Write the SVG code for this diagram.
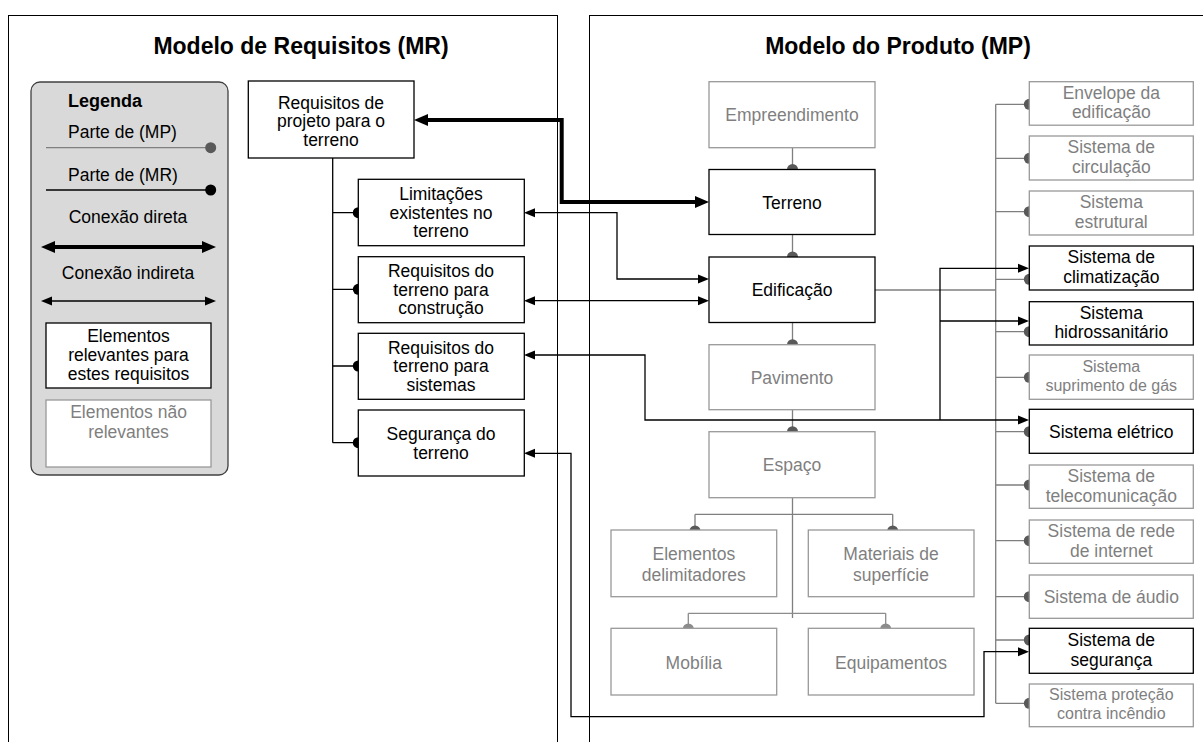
<svg xmlns="http://www.w3.org/2000/svg" width="1203" height="742" viewBox="0 0 1203 742">
  <style>
    text { font-family: "Liberation Sans", Arial, sans-serif; font-size: 17.5px; fill: #000; text-anchor: middle; }
    .title { font-size: 23px; font-weight: bold; }
    .leg { text-anchor: start; }
    .g { fill: #7f7f7f; }
    .sm { font-size: 16px; }
    .panel { fill: none; stroke: #000; stroke-width: 1; }
    .box { fill: #fff; stroke: #000; stroke-width: 1.3; }
    .gbox { fill: #fff; stroke: #999; stroke-width: 1.3; }
    .mr { fill: none; stroke: #000; stroke-width: 1.3; }
    .mp { fill: none; stroke: #7f7f7f; stroke-width: 1.3; }
    .mp2 { fill: none; stroke: #8c8c8c; stroke-width: 1.3; }
    .dk { fill: #000; }
    .dg { fill: #595959; }
    .lg { fill: #8c8c8c; }
    .thin { fill: none; stroke: #000; stroke-width: 1.3; }
    .thick { fill: none; stroke: #000; stroke-width: 4; }
  </style>
  <defs>
    <marker id="ah" markerUnits="userSpaceOnUse" markerWidth="11" markerHeight="10" viewBox="0 0 11 10" refX="8" refY="5" orient="auto-start-reverse">
      <path d="M0,0.5 L11,5 L0,9.5 z" fill="#000"/>
    </marker>
    <marker id="ahb" markerUnits="userSpaceOnUse" markerWidth="14" markerHeight="13" viewBox="0 0 14 13" refX="7" refY="6.5" orient="auto-start-reverse">
      <path d="M0,0.5 L14,6.5 L0,12.5 z" fill="#000"/>
    </marker>
  </defs>

  <rect width="1203" height="742" fill="#fff"/>

  <!-- panels -->
  <g id="panels">
    <rect class="panel" x="8.5" y="15.5" width="549" height="760"/>
    <rect class="panel" x="589.5" y="15.5" width="640" height="760"/>
    <text class="title" x="301" y="54">Modelo de Requisitos (MR)</text>
    <text class="title" x="898" y="54">Modelo do Produto (MP)</text>
  </g>

  <!-- legend -->
  <g id="legenda">
    <rect x="31" y="82" width="197" height="393" rx="9" fill="#d9d9d9" stroke="#404040" stroke-width="1.3"/>
    <text class="leg" x="68" y="107" style="font-weight:bold;font-size:18px">Legenda</text>
    <text class="leg" x="68" y="138">Parte de (MP)</text>
    <line class="mp" x1="46" y1="147.7" x2="210.7" y2="147.7"/>
    <circle class="dg" cx="210.7" cy="147.7" r="5.5"/>
    <text class="leg" x="68" y="181">Parte de (MR)</text>
    <line class="mr" x1="46" y1="190" x2="210.7" y2="190"/>
    <circle class="dk" cx="210.7" cy="190" r="5.5"/>
    <text x="128" y="223">Conexão direta</text>
    <line class="thick" x1="48" y1="247" x2="209" y2="247" marker-start="url(#ahb)" marker-end="url(#ahb)"/>
    <text x="128" y="279">Conexão indireta</text>
    <line class="thin" x1="44" y1="301" x2="213" y2="301" marker-start="url(#ah)" marker-end="url(#ah)"/>
    <rect class="box" x="46" y="323" width="165" height="65"/>
    <text x="128.5" y="342">Elementos</text>
    <text x="128.5" y="361">relevantes para</text>
    <text x="128.5" y="380">estes requisitos</text>
    <rect class="gbox" x="46" y="400" width="165" height="67"/>
    <text class="g" x="128.5" y="418">Elementos não</text>
    <text class="g" x="128.5" y="437.5">relevantes</text>
  </g>

  <!-- connectors -->
  <g id="connectors">
    <!-- requirement hierarchy -->
    <path class="mr" d="M332.7,158 V442.7 M332.7,212.7 H358 M332.7,289.3 H358 M332.7,366 H358 M332.7,442.7 H358"/>
    <circle class="dk" cx="358.3" cy="212.7" r="5.5"/>
    <circle class="dk" cx="358.3" cy="289.3" r="5.5"/>
    <circle class="dk" cx="358.3" cy="366" r="5.5"/>
    <circle class="dk" cx="358.3" cy="442.7" r="5.5"/>

    <!-- product hierarchy: main chain -->
    <path class="mp" d="M792.5,147.7 V169 M792.5,234.5 V257 M792.5,322.5 V344.7 M792.5,409.7 V431.7 M792.5,497.7 V618 M695,514.3 H892.7 M695,514.3 V530 M892.7,514.3 V530"/>
    <circle class="dg" cx="792.5" cy="169.5" r="5.5"/>
    <circle class="dg" cx="792.5" cy="257" r="5.5"/>
    <circle class="dg" cx="792.5" cy="344.7" r="5.5"/>
    <circle class="dg" cx="792.5" cy="431.7" r="5.5"/>
    <circle class="dg" cx="695" cy="531" r="5.5"/>
    <circle class="dg" cx="892.7" cy="531" r="5.5"/>
    <path class="mp2" d="M688.3,613.3 H885.7 M688.3,613.3 V628 M885.7,613.3 V628"/>
    <circle class="lg" cx="688.3" cy="629" r="5.5"/>
    <circle class="lg" cx="885.7" cy="629" r="5.5"/>

    <!-- building systems bus -->
    <path class="mp" d="M875,290 H995.7 M995.7,104.3 V703.3 M995.7,104.3 H1029 M995.7,158.3 H1029 M995.7,211.7 H1029 M995.7,279.3 H1029 M995.7,331.7 H1029 M995.7,377.3 H1029 M995.7,431.7 H1029 M995.7,485 H1029 M995.7,540.7 H1029 M995.7,596.7 H1029 M995.7,640 H1029 M995.7,703.3 H1029"/>
    <circle class="dg" cx="1029.3" cy="104.3" r="5.5"/>
    <circle class="dg" cx="1029.3" cy="158.3" r="5.5"/>
    <circle class="dg" cx="1029.3" cy="211.7" r="5.5"/>
    <circle class="dg" cx="1029.3" cy="279.3" r="5.5"/>
    <circle class="dg" cx="1029.3" cy="331.7" r="5.5"/>
    <circle class="dg" cx="1029.3" cy="377.3" r="5.5"/>
    <circle class="dg" cx="1029.3" cy="431.7" r="5.5"/>
    <circle class="dg" cx="1029.3" cy="485" r="5.5"/>
    <circle class="dg" cx="1029.3" cy="540.7" r="5.5"/>
    <circle class="dg" cx="1029.3" cy="596.7" r="5.5"/>
    <circle class="dg" cx="1029.3" cy="640" r="5.5"/>
    <circle class="dg" cx="1029.3" cy="703.3" r="5.5"/>

    <!-- direct connection -->
    <path class="thick" d="M421,120 H561.7 V202 H702" marker-start="url(#ahb)" marker-end="url(#ahb)"/>
    <!-- indirect connections -->
    <path class="thin" d="M527,212.7 H617 V279 H706" marker-start="url(#ah)" marker-end="url(#ah)"/>
    <path class="thin" d="M527,300.7 H706" marker-start="url(#ah)" marker-end="url(#ah)"/>
    <path class="thin" d="M527,355 H645 V420 H1026" marker-start="url(#ah)" marker-end="url(#ah)"/>
    <path class="thin" d="M940,420 V268.3 H1026" marker-end="url(#ah)"/>
    <path class="thin" d="M940,321 H1026" marker-end="url(#ah)"/>
    <path class="thin" d="M527,453.3 H571 V716.7 H984 V651.7 H1026" marker-start="url(#ah)" marker-end="url(#ah)"/>
  </g>

  <!-- requirement nodes -->
  <g id="req-projeto">
    <rect class="box" x="248.3" y="81" width="165.7" height="77"/>
    <text x="331" y="108.5">Requisitos de</text>
    <text x="331" y="127">projeto para o</text>
    <text x="331" y="145.5">terreno</text>
  </g>
  <g id="req-limitacoes">
    <rect class="box" x="358.3" y="179.3" width="166" height="66.4"/>
    <text x="441" y="200">Limitações</text>
    <text x="441" y="218.5">existentes no</text>
    <text x="441" y="237">terreno</text>
  </g>
  <g id="req-construcao">
    <rect class="box" x="358.3" y="256.7" width="166" height="66"/>
    <text x="441" y="277">Requisitos do</text>
    <text x="441" y="295.5">terreno para</text>
    <text x="441" y="314">construção</text>
  </g>
  <g id="req-sistemas">
    <rect class="box" x="358.3" y="333.3" width="166" height="66"/>
    <text x="441" y="353.5">Requisitos do</text>
    <text x="441" y="372">terreno para</text>
    <text x="441" y="390.5">sistemas</text>
  </g>
  <g id="req-seguranca">
    <rect class="box" x="358.3" y="410" width="166" height="66"/>
    <text x="441" y="440">Segurança do</text>
    <text x="441" y="459">terreno</text>
  </g>

  <!-- product nodes -->
  <g id="mp-empreendimento">
    <rect class="gbox" x="709" y="81.7" width="166" height="66"/>
    <text class="g" x="792" y="121">Empreendimento</text>
  </g>
  <g id="mp-terreno">
    <rect class="box" x="709" y="169.5" width="166" height="65"/>
    <text x="792" y="208.5">Terreno</text>
  </g>
  <g id="mp-edificacao">
    <rect class="box" x="709" y="257" width="166" height="65.5"/>
    <text x="792" y="296">Edificação</text>
  </g>
  <g id="mp-pavimento">
    <rect class="gbox" x="709" y="344.7" width="166" height="65"/>
    <text class="g" x="792" y="383.5">Pavimento</text>
  </g>
  <g id="mp-espaco">
    <rect class="gbox" x="709" y="431.7" width="166" height="66"/>
    <text class="g" x="792" y="471">Espaço</text>
  </g>
  <g id="mp-elementos">
    <rect class="gbox" x="611" y="530" width="165.7" height="66.7"/>
    <text class="g" x="693.8" y="560">Elementos</text>
    <text class="g" x="693.8" y="580.5">delimitadores</text>
  </g>
  <g id="mp-materiais">
    <rect class="gbox" x="808.3" y="530" width="165.7" height="66.7"/>
    <text class="g" x="891" y="560">Materiais de</text>
    <text class="g" x="891" y="580.5">superfície</text>
  </g>
  <g id="mp-mobilia">
    <rect class="gbox" x="611" y="628.3" width="165.7" height="66.7"/>
    <text class="g" x="693.8" y="668.5">Mobília</text>
  </g>
  <g id="mp-equipamentos">
    <rect class="gbox" x="808.3" y="628.3" width="165.7" height="66.7"/>
    <text class="g" x="891" y="668.5">Equipamentos</text>
  </g>

  <!-- building systems -->
  <g id="sys-envelope">
    <rect class="gbox" x="1029.3" y="81.7" width="164" height="43.5"/>
    <text class="g" x="1111.3" y="98.5">Envelope da</text>
    <text class="g" x="1111.3" y="118">edificação</text>
  </g>
  <g id="sys-circulacao">
    <rect class="gbox" x="1029.3" y="136" width="164" height="44"/>
    <text class="g" x="1111.3" y="153">Sistema de</text>
    <text class="g" x="1111.3" y="172.5">circulação</text>
  </g>
  <g id="sys-estrutural">
    <rect class="gbox" x="1029.3" y="191" width="164" height="44"/>
    <text class="g" x="1111.3" y="208">Sistema</text>
    <text class="g" x="1111.3" y="227.5">estrutural</text>
  </g>
  <g id="sys-climatizacao">
    <rect class="box" x="1029.3" y="246" width="164" height="44"/>
    <text x="1111.3" y="263">Sistema de</text>
    <text x="1111.3" y="282.5">climatização</text>
  </g>
  <g id="sys-hidrossanitario">
    <rect class="box" x="1029.3" y="301.7" width="164" height="43.3"/>
    <text x="1111.3" y="318.5">Sistema</text>
    <text x="1111.3" y="338">hidrossanitário</text>
  </g>
  <g id="sys-gas">
    <rect class="gbox" x="1029.3" y="355" width="164" height="44.3"/>
    <text class="g sm" x="1111.3" y="372">Sistema</text>
    <text class="g sm" x="1111.3" y="391">suprimento de gás</text>
  </g>
  <g id="sys-eletrico">
    <rect class="box" x="1029.3" y="409.3" width="164" height="44"/>
    <text x="1111.3" y="437.5">Sistema elétrico</text>
  </g>
  <g id="sys-telecom">
    <rect class="gbox" x="1029.3" y="465" width="164" height="43.3"/>
    <text class="g" x="1111.3" y="482">Sistema de</text>
    <text class="g" x="1111.3" y="501.5">telecomunicação</text>
  </g>
  <g id="sys-internet">
    <rect class="gbox" x="1029.3" y="520" width="164" height="43.3"/>
    <text class="g" x="1111.3" y="537">Sistema de rede</text>
    <text class="g" x="1111.3" y="556.5">de internet</text>
  </g>
  <g id="sys-audio">
    <rect class="gbox" x="1029.3" y="575" width="164" height="43.3"/>
    <text class="g" x="1111.3" y="603">Sistema de áudio</text>
  </g>
  <g id="sys-seguranca">
    <rect class="box" x="1029.3" y="628.3" width="164" height="45"/>
    <text x="1111.3" y="646">Sistema de</text>
    <text x="1111.3" y="665.5">segurança</text>
  </g>
  <g id="sys-incendio">
    <rect class="gbox" x="1029.3" y="684" width="164" height="42.7"/>
    <text class="g sm" x="1111.3" y="700">Sistema proteção</text>
    <text class="g sm" x="1111.3" y="719">contra incêndio</text>
  </g>
</svg>
